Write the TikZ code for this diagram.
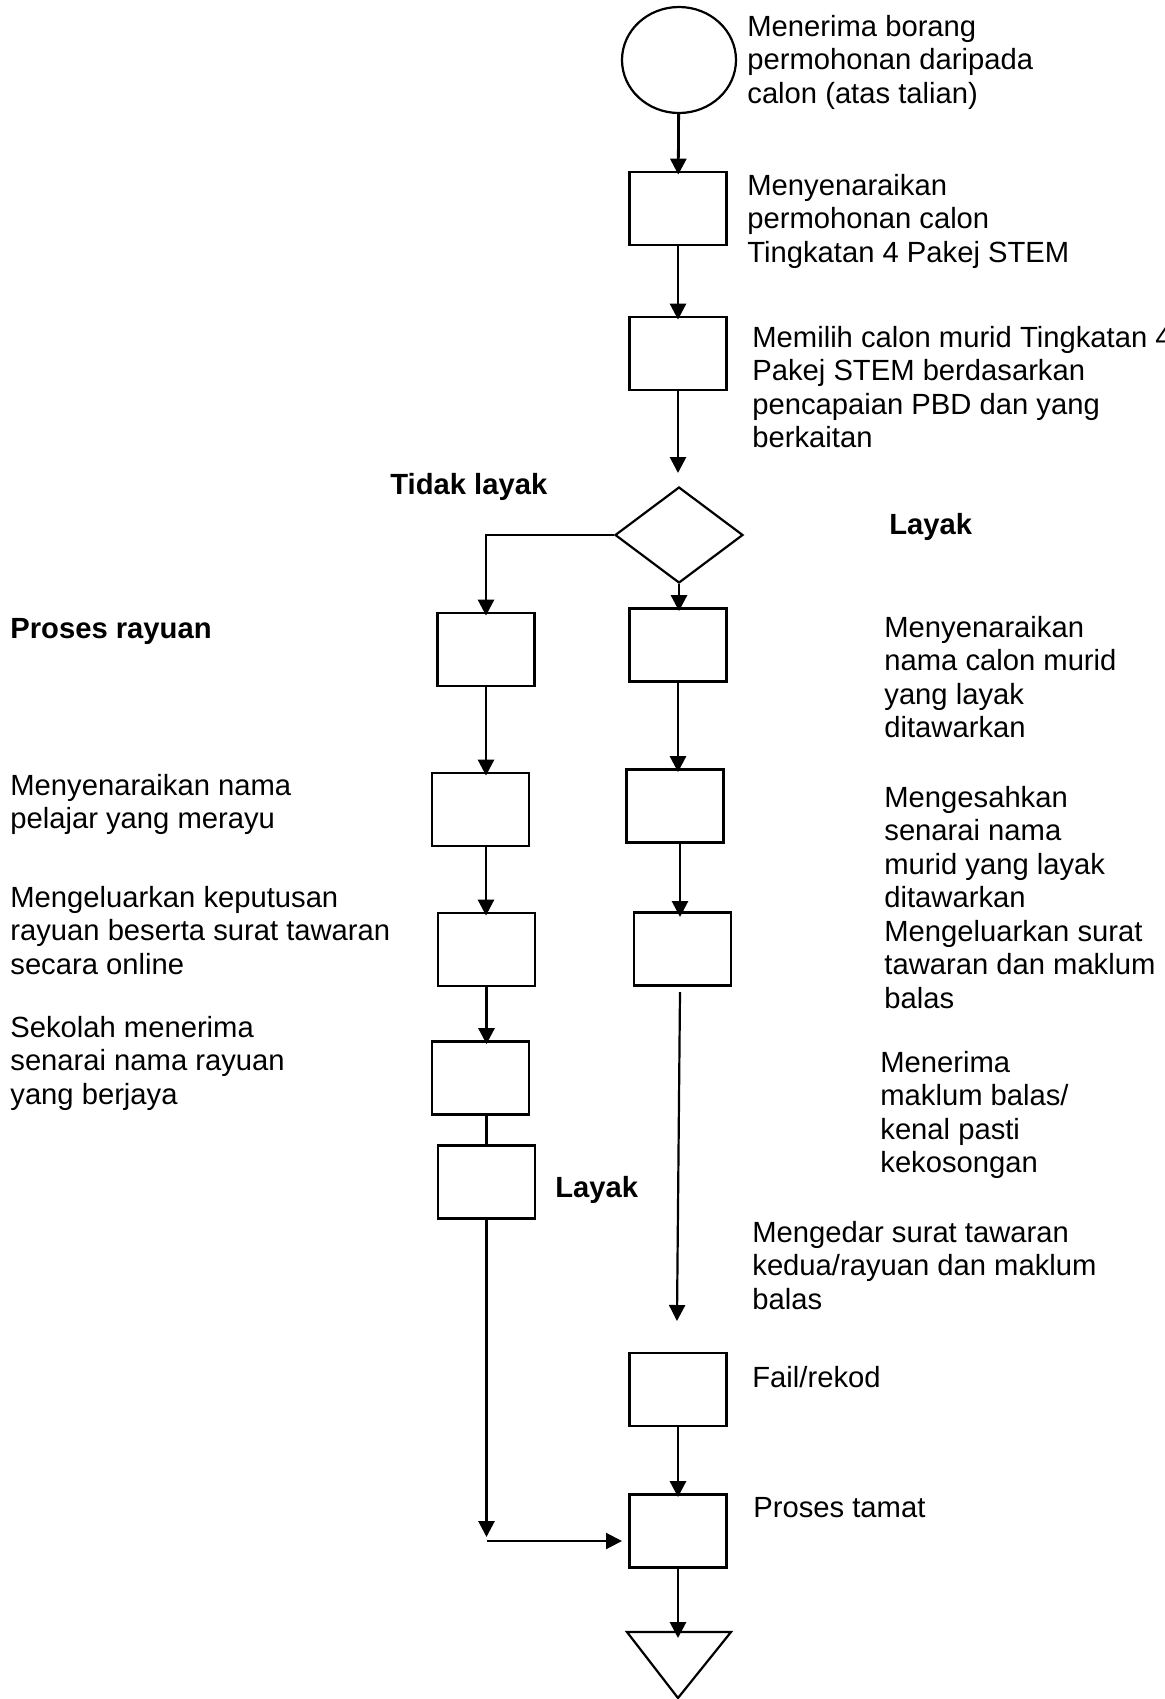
\documentclass[tikz,border=0pt]{standalone}
\usepackage{fontspec}
\setmainfont{Liberation Sans}
\usetikzlibrary{arrows.meta,shapes.geometric}

\begin{document}
\begin{tikzpicture}[x=0.5pt,y=-0.5pt,
        box/.style={draw,line width=1.4pt,minimum width=48.5pt,minimum height=36.5pt,inner sep=0pt},
        flow/.style={line width=1.4pt,-{Triangle[length=8pt,width=8pt]},shorten >=-2pt},
        txt/.style={anchor=base west,align=left,inner sep=0pt,font=\fontsize{14.6}{16.75}\selectfont},
        lbl/.style={txt,font=\fontsize{14.6}{16.75}\selectfont\bfseries}]
        \useasboundingbox (0,0) rectangle (1164,1699);
        \node[draw,ellipse,line width=1.1pt,minimum width=57pt,minimum height=53pt,inner sep=0pt] (s_0) at (679,60) {};
        \node[box] (b_1) at (678,208.5) {};
        \node[box] (b_2) at (678,353.5) {};
        \coordinate (d_in) at (678,469);
        \node[draw,diamond,line width=1.1pt,minimum width=64pt,minimum height=48pt,inner sep=0pt] (d_0) at (679,535) {};
        \node[box] (r_1) at (678,645) {};
        \node[box] (r_2) at (675,806) {};
        \node[box] (r_3) at (682.5,949) {};
        \node[box] (l_1) at (486,649.5) {};
        \node[box] (l_2) at (480.5,809.5) {};
        \node[box] (l_3) at (486.5,949.5) {};
        \node[box] (l_4) at (480.5,1078) {};
        \node[box] (l_5) at (486.5,1182) {};
        \node[box] (f_0) at (678,1389.5) {};
        \node[box] (e_0) at (678,1531) {};
        \coordinate (r_a) at (680,992);
        \coordinate (r_b) at (677,1317);
        \coordinate (l_a) at (486.5,1533);
        \coordinate (h_a) at (486.5,1541);
        \coordinate (h_b) at (618,1541);
        \coordinate (t_0) at (678,1638);
        \draw[line width=1.1pt] (627,1632) -- (731,1632) -- (678,1698) -- cycle;
        \draw[flow] (s_0) -- (b_1);
        \draw[flow] (b_1) -- (b_2);
        \draw[flow] (b_2) -- (d_in);
        \draw[flow] (d_0.west) -| (l_1.north);
        \draw[flow] (d_0.south) -- (d_0.south |- r_1.north);
        \draw[flow] (r_1.south) -- (r_1.south |- r_2.north);
        \draw[flow] (680,842) -- (680,913);
        \draw[flow,line width=1.1pt] (r_a) -- (r_b);
        \draw[flow] (l_1.south) -- (l_1.south |- l_2.north);
        \draw[flow] (l_2.south -| l_1) -- (l_1 |- l_3.north);
        \draw[flow] (l_3.south) -- (l_3.south |- l_4.north);
        \draw[line width=1.4pt] (l_4.south -| l_5) -- (l_5.north);
        \draw[flow] (l_5) -- (l_a);
        \draw[flow,line width=1.1pt] (h_a) -- (h_b);
        \draw[flow] (f_0) -- (e_0);
        \draw[flow,shorten >=0pt] (e_0) -- (t_0);
        \node[txt] (n_1) at (747,103) {Menerima borang\\permohonan daripada\\calon (atas talian)};
        \node[txt] (n_2) at (747,262) {Menyenaraikan\\permohonan calon\\Tingkatan 4 Pakej STEM};
        \node[txt] (n_3) at (752,447.5) {Memilih calon murid Tingkatan 4\\Pakej STEM berdasarkan\\pencapaian PBD dan yang\\berkaitan};
        \node[lbl] (k_1) at (390,494) {Tidak layak};
        \node[lbl] (k_2) at (889,534) {Layak};
        \node[lbl] (k_3) at (10,638) {Proses rayuan};
        \node[txt] (n_4) at (884,737.5) {Menyenaraikan\\nama calon murid\\yang layak\\ditawarkan};
        \node[txt] (n_5) at (884,907.5) {Mengesahkan\\senarai nama\\murid yang layak\\ditawarkan};
        \node[txt] (n_6) at (884,1008) {Mengeluarkan surat\\tawaran dan maklum\\balas};
        \node[txt] (n_7) at (880,1172.5) {Menerima\\maklum balas/\\kenal pasti\\kekosongan};
        \node[txt] (n_8) at (10,828.5) {Menyenaraikan nama\\pelajar yang merayu};
        \node[txt] (n_9) at (10,974) {Mengeluarkan keputusan\\rayuan beserta surat tawaran\\secara online};
        \node[txt] (n_10) at (10,1104) {Sekolah menerima\\senarai nama rayuan\\yang berjaya};
        \node[lbl] (k_4) at (555,1197) {Layak};
        \node[txt] (n_11) at (752,1309) {Mengedar surat tawaran\\kedua/rayuan dan maklum\\balas};
        \node[txt] (n_12) at (752,1387) {Fail/rekod};
        \node[txt] (n_13) at (753,1517) {Proses tamat};
\end{tikzpicture}
\end{document}
